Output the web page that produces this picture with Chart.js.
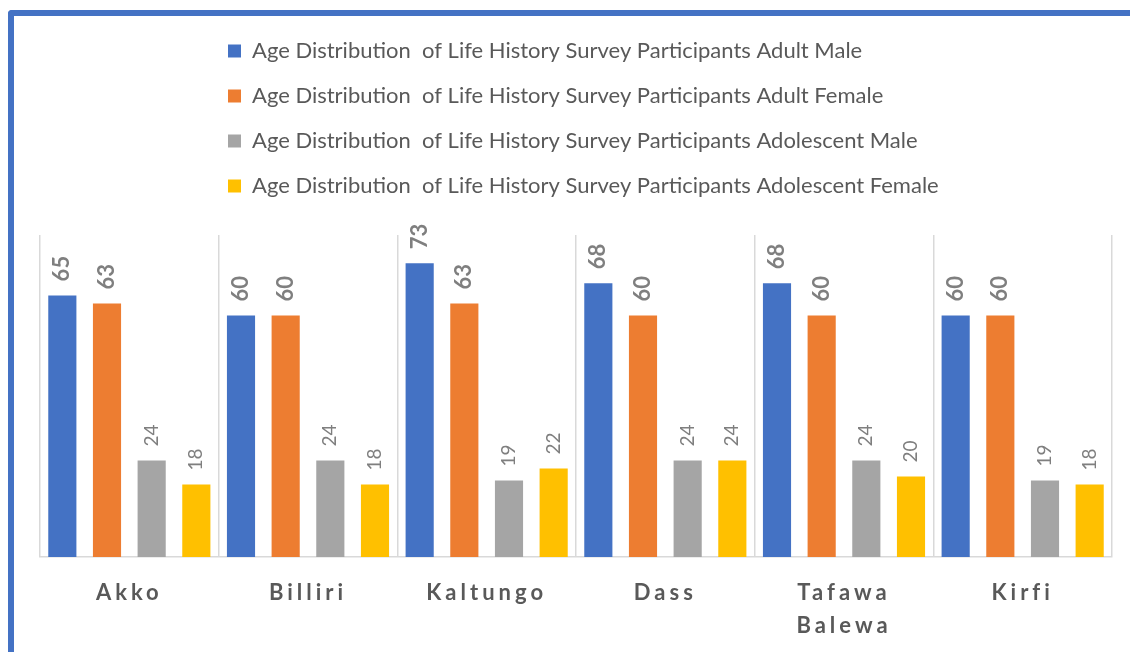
<!DOCTYPE html>
<html>
<head>
<meta charset="utf-8">
<script src="https://cdn.jsdelivr.net/npm/chart.js@4"></script>
<style>
  html, body { margin: 0; padding: 0; background: #fff; }
  #wrap { position: relative; width: 1130px; height: 652px; overflow: hidden; }
  #frame {
    position: absolute; left: 8px; top: 10px; width: 1140px; height: 660px;
    border-top: 6px solid #4472c4; border-left: 6px solid #4472c4;
    border-top-left-radius: 4px; pointer-events: none;
  }
</style>
</head>
<body>
<div id="wrap">
  <canvas id="chart"></canvas>
  <div id="frame"></div>
</div>
<script>
const districts = ['Akko', 'Billiri', 'Kaltungo', 'Dass', ['Tafawa', 'Balewa'], 'Kirfi'];
const seriesNames = [
  'Age Distribution  of Life History Survey Participants Adult Male',
  'Age Distribution  of Life History Survey Participants Adult Female',
  'Age Distribution  of Life History Survey Participants Adolescent Male',
  'Age Distribution  of Life History Survey Participants Adolescent Female'
];
const adultMale = [65, 60, 73, 68, 68, 60];
const adultFemale = [63, 60, 63, 60, 60, 60];
const adolescentMale = [24, 24, 19, 24, 24, 19];
const adolescentFemale = [18, 18, 22, 24, 20, 18];

const colors = ['#4472c4', '#ed7d31', '#a5a5a5', '#ffc000'];
const FONT = 'Lato, "Open Sans", sans-serif';

// rotated value labels above each bar
const valueLabels = {
  id: 'valueLabels',
  afterDatasetsDraw(chart) {
    const ctx = chart.ctx;
    chart.data.datasets.forEach((ds, i) => {
      const meta = chart.getDatasetMeta(i);
      meta.data.forEach((bar, j) => {
        ctx.save();
        ctx.translate(bar.x, bar.y - 14);
        ctx.rotate(-Math.PI / 2);
        ctx.font = ds.boldLabel ? 'bold 22px ' + FONT : '19px ' + FONT;
        ctx.fillStyle = '#7f7f7f';
        ctx.textAlign = 'left';
        ctx.textBaseline = 'middle';
        ctx.fillText(String(ds.data[j]), 0, 0);
        ctx.restore();
      });
    });
    // category labels are drawn after this (ticks.z = 1) with spaced letters
    ctx.letterSpacing = '4px';
  },
  afterDraw(chart) {
    chart.ctx.letterSpacing = '0px';
  }
};

// extra room under the legend, and left-aligned legend block
const legendSpacing = {
  id: 'legendSpacing',
  beforeInit(chart) {
    const fit = chart.legend.fit;
    chart.legend.fit = function () {
      fit.bind(chart.legend)();
      this.height += 28;
    };
  },
  afterLayout(chart) {
    chart.legend.left = 228 - chart.legend.options.labels.padding;
  }
};

const datasets = [adultMale, adultFemale, adolescentMale, adolescentFemale].map((values, i) => ({
  label: seriesNames[i],
  data: values,
  backgroundColor: colors[i],
  borderWidth: 0,
  boldLabel: i < 2
}));

new Chart(document.getElementById('chart'), {
  type: 'bar',
  data: { labels: districts, datasets },
  options: {
    responsive: true,
    maintainAspectRatio: false,
    animation: false,
    datasets: { bar: { barPercentage: 0.63, categoryPercentage: 1 } },
    layout: { padding: { top: 17, left: 40, right: 18, bottom: 0 } },
    plugins: {
      legend: {
        position: 'top',
        align: 'start',
        labels: {
          boxWidth: 13,
          boxHeight: 13,
          padding: 23,
          color: '#595959',
          font: { family: FONT, size: 22 }
        }
      },
      tooltip: { enabled: false }
    },
    scales: {
      x: {
        afterFit(scale) { scale.height = 95; },
        grid: { offset: true, color: '#d9d9d9', lineWidth: 1.5, drawTicks: false },
        border: { color: '#d9d9d9', width: 1.5 },
        ticks: {
          z: 1,
          padding: 19,
          color: '#595959',
          font: { family: FONT, size: 22, weight: 'bold', lineHeight: 1.5 }
        }
      },
      y: {
        display: false,
        min: 0,
        max: 80
      }
    }
  },
  plugins: [valueLabels, legendSpacing]
});
</script>
</body>
</html>
